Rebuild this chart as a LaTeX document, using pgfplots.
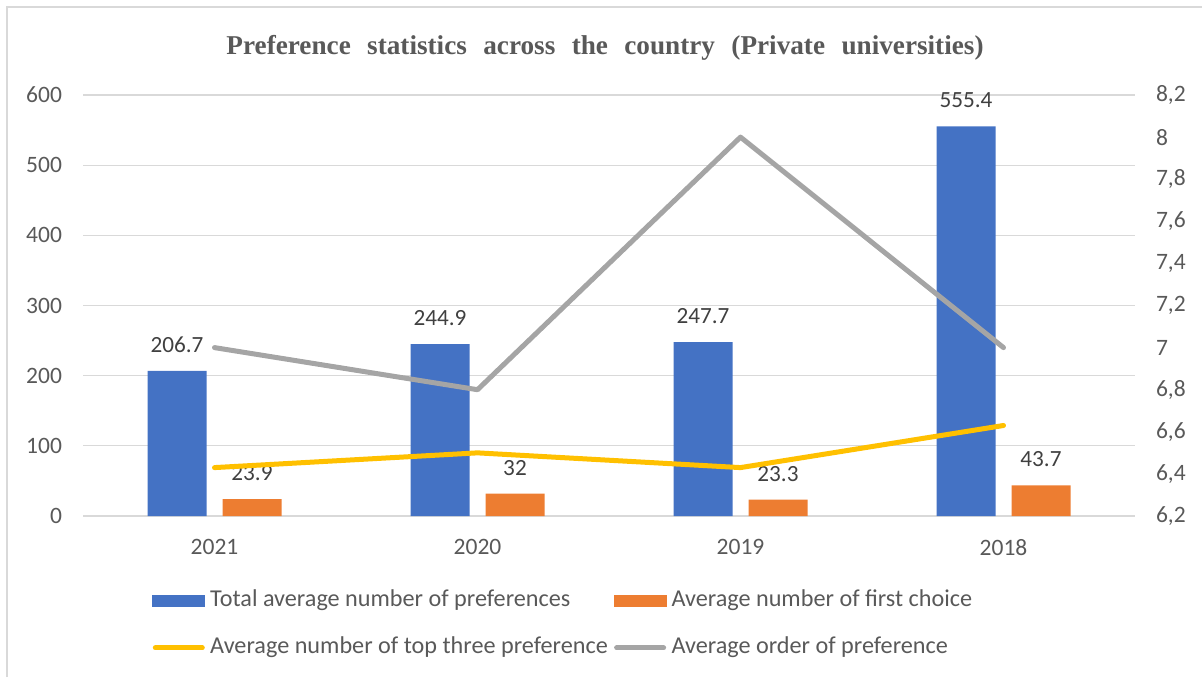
\documentclass[border=0pt]{standalone}
\usepackage{pgfplots}
\pgfplotsset{compat=1.18}
\usepackage{fontspec}
\setmainfont{Carlito}
\newfontfamily\titlefont{Liberation Serif}
\definecolor{cblue}{HTML}{4472C4}
\definecolor{corange}{HTML}{ED7D31}
\definecolor{cyellow}{HTML}{FFC000}
\definecolor{cgray}{HTML}{A5A5A5}
\definecolor{gridc}{HTML}{D9D9D9}
\definecolor{tickc}{HTML}{595959}
\definecolor{labc}{HTML}{404040}
\begin{document}
\begin{tikzpicture}
\path[use as bounding box] (0,0) rectangle (601pt,338.5pt);
\draw[gridc, line width=1pt] (3.5pt,0) -- (3.5pt,335pt) -- (601pt,335pt);
\node[text=tickc, font=\titlefont\bfseries\fontsize{13.6}{16}\selectfont] at (302.5pt,314.5pt)
  {\spaceskip=8.2pt Preference statistics across the country (Private universities)};
\begin{axis}[
  at={(41.5pt,80.5pt)}, anchor=south west,
  scale only axis, width=526pt, height=210.5pt,
  xmin=-0.5, xmax=3.5, ymin=0, ymax=600,
  xtick={0,1,2,3}, xticklabels={2021,2020,2019,2018},
  ytick={0,100,200,300,400,500,600},
  ymajorgrids, grid style={gridc, line width=0.6pt},
  axis x line*=bottom, axis y line*=left,
  x axis line style={gridc, line width=0.6pt},
  y axis line style={draw=none},
  major tick length=0pt, tick style={draw=none},
  /pgf/number format/assume math mode=true,
  ticklabel style={font=\fontsize{11.75}{14}\selectfont, text=tickc},
  yticklabel style={xshift=-7pt},
  xticklabel style={yshift=-8.1pt},
  ybar, bar width=29.5pt,
  nodes near coords,
  every node near coord/.append style={font=\fontsize{11.6}{14}\selectfont, text=labc, yshift=5.6pt},
]
\addplot[fill=cblue, draw=none, bar shift=-18.75pt] coordinates {(0,206.7) (1,244.9) (2,247.7) (3,555.4)};
\addplot[fill=corange, draw=none, bar shift=18.75pt] coordinates {(0,23.9) (1,32) (2,23.3) (3,43.7)};
\end{axis}
\begin{axis}[
  at={(41.5pt,80.5pt)}, anchor=south west,
  scale only axis, width=526pt, height=210.5pt,
  xmin=-0.5, xmax=3.5, ymin=6.2, ymax=8.2,
  axis x line=none, axis y line*=right,
  y axis line style={draw=none},
  major tick length=0pt, tick style={draw=none},
  ytick={6.2,6.4,6.6,6.8,7,7.2,7.4,7.6,7.8,8,8.2},
  yticklabels={{6,2},{6,4},{6,6},{6,8},{7},{7,2},{7,4},{7,6},{7,8},{8},{8,2}},
  ticklabel style={font=\fontsize{11.75}{14}\selectfont, text=tickc},
  yticklabel style={xshift=7pt},
  legend columns=2,
  legend cell align=left,
  legend style={at={(0.0656,-0.1758)}, anchor=north west, draw=none, fill=none,
    inner sep=0pt, row sep=13pt,
    font=\fontsize{12.1}{14}\selectfont, text=tickc,
    nodes={inner sep=0pt, text height=8pt, text depth=2.5pt},
    /tikz/every odd column/.append style={column sep=2.5pt},
    /tikz/every even column/.append style={column sep=3pt}},
]
\addlegendimage{legend image code/.code={\fill[cblue] (0pt,-2.75pt) rectangle (26pt,2.75pt);}}
\addlegendentry{Total average number of preferences}
\addlegendimage{legend image code/.code={\fill[corange] (0pt,-2.75pt) rectangle (26pt,2.75pt);}}
\addlegendentry{Average number of first choice}
\addplot[cyellow, line width=2.5pt, line cap=round, line join=round,
  legend image code/.code={\draw[cyellow, line width=2.5pt, line cap=round] (1.25pt,0pt) -- (24.75pt,0pt);}]
  coordinates {(0,6.43) (1,6.5) (2,6.43) (3,6.63)};
\addlegendentry{Average number of top three preference}
\addplot[cgray, line width=2.5pt, line cap=round, line join=round,
  legend image code/.code={\draw[cgray, line width=2.5pt, line cap=round] (1.25pt,0pt) -- (24.75pt,0pt);}]
  coordinates {(0,7.0) (1,6.8) (2,8.0) (3,7.0)};
\addlegendentry{Average order of preference}
\end{axis}
\end{tikzpicture}
\end{document}
